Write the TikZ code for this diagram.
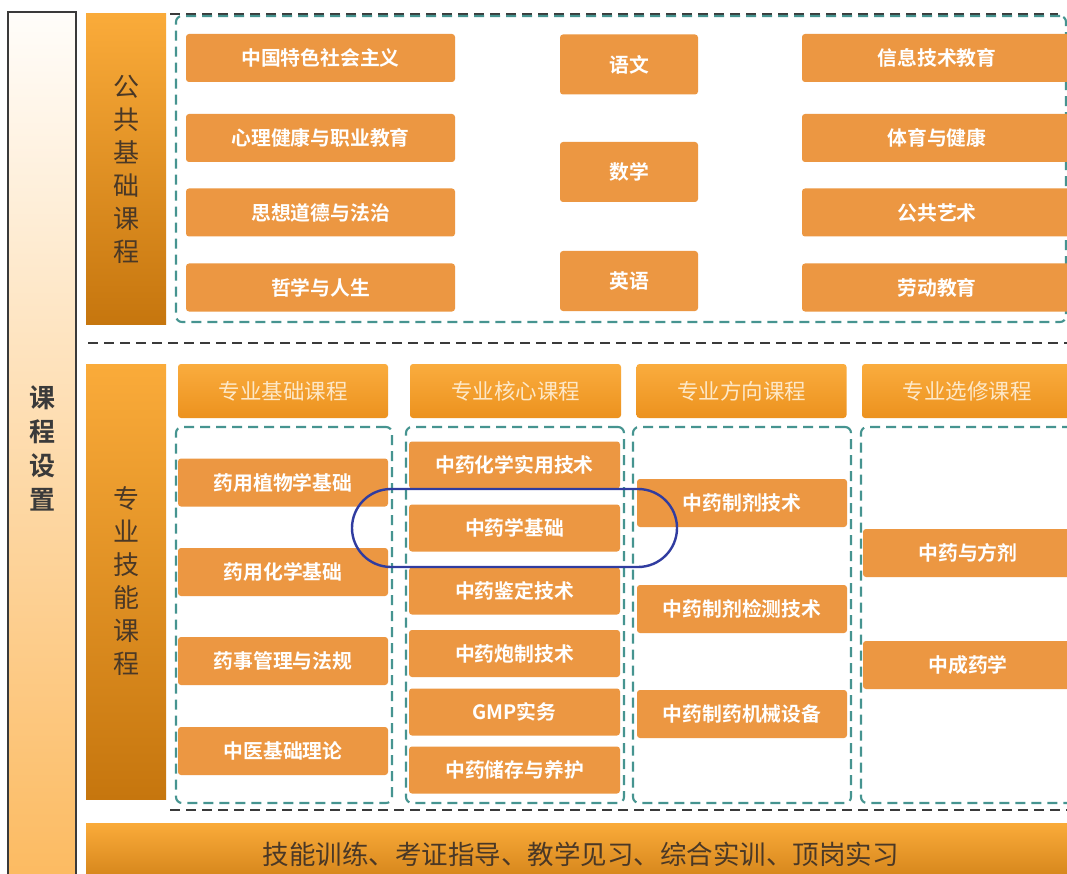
\documentclass[tikz,border=0pt]{standalone}
\usepackage{fontspec}
\setmainfont{Noto Sans CJK SC}[BoldFont={Noto Sans CJK SC Bold}]
\usepackage{xcolor}
\usetikzlibrary{positioning}

\definecolor{courseorange}{RGB}{236,151,66}
\definecolor{headtop}{RGB}{250,172,62}
\definecolor{headbottom}{RGB}{236,146,30}
\definecolor{headtext}{RGB}{253,232,200}
\definecolor{bartop}{RGB}{250,171,58}
\definecolor{barbottom}{RGB}{198,118,14}
\definecolor{bartext}{RGB}{74,56,38}
\definecolor{groupteal}{RGB}{70,148,144}
\definecolor{sepgray}{RGB}{58,58,58}
\definecolor{hiliteblue}{RGB}{48,60,160}
\definecolor{sidetop}{RGB}{255,253,250}
\definecolor{sidebottom}{RGB}{252,186,96}

\begin{document}
\begin{tikzpicture}[
  x=1pt, y=-1pt,
  course/.style={
    fill=courseorange,
    minimum width=210pt,
    minimum height=48pt,
    rounded corners=3pt,
    inner sep=0pt,
    text=white,
    font=\fontsize{19.8}{20}\selectfont\bfseries
  },
  header/.style={
    top color=headtop,
    bottom color=headbottom,
    minimum width=210pt,
    minimum height=54pt,
    rounded corners=3pt,
    inner sep=0pt,
    text=headtext,
    font=\fontsize{21.5}{22}\selectfont
  },
  sidebar/.style={
    top color=bartop,
    bottom color=barbottom,
    minimum width=80pt,
    inner sep=0pt,
    align=center,
    text=bartext,
    font=\fontsize{26}{33}\selectfont
  },
  group/.style={
    draw=groupteal,
    dash pattern=on 10pt off 6pt,
    line width=2.1pt,
    rounded corners=6pt,
    inner sep=0pt
  },
  sepline/.style={
    draw=sepgray,
    dash pattern=on 10pt off 6pt,
    line width=2.1pt
  },
  hilite/.style={
    draw=hiliteblue,
    line width=2.4pt,
    rounded corners=39pt,
    minimum width=325pt,
    minimum height=78pt,
    inner sep=0pt
  }
]
\useasboundingbox[fill=white] (0,0) rectangle (1067,874);

% Outer frame on the left
\node[draw=sepgray, line width=1.6pt, top color=sidetop, bottom color=sidebottom,
  minimum width=68pt, minimum height=873pt, inner sep=0pt, align=center,
  text=sepgray, font=\fontsize{26}{34}\selectfont\bfseries] (plan) at (42,448.5)
  {课\\程\\设\\置};

% Separator lines
\draw[sepline] (170,14) -- (1058,14);
\draw[sepline] (88,343) -- (1067,343);
\draw[sepline] (170,810) -- (1067,810);

% Public basic courses
\node[sidebar, minimum height=310pt] (pubbar) at (126,169) {公\\共\\基\\础\\课\\程};
\node[group, minimum width=890pt, minimum height=306pt] (pubgroup) at (621,169) {};

\node[course, minimum width=269pt] (p1) at (320.5,58) {中国特色社会主义};
\node[course, minimum width=269pt] (p2) at (320.5,138) {心理健康与职业教育};
\node[course, minimum width=269pt] (p3) at (320.5,212.5) {思想道德与法治};
\node[course, minimum width=269pt] (p4) at (320.5,287.5) {哲学与人生};

\node[course, minimum width=138pt, minimum height=60pt] (p5) at (629,64.5) {语文};
\node[course, minimum width=138pt, minimum height=60pt] (p6) at (629,172) {数学};
\node[course, minimum width=138pt, minimum height=60pt] (p7) at (629,281) {英语};

\node[course, minimum width=270pt] (p8) at (937,58) {信息技术教育};
\node[course, minimum width=270pt] (p9) at (937,138) {体育与健康};
\node[course, minimum width=270pt] (p10) at (937,212.5) {公共艺术};
\node[course, minimum width=270pt] (p11) at (937,287.5) {劳动教育};

% Professional skill courses
\node[sidebar, minimum height=435pt] (probar) at (126,581.5) {专\\业\\技\\能\\课\\程};

\node[header] (h1) at (283,391) {专业基础课程};
\node[header, minimum width=211pt] (h2) at (515.5,391) {专业核心课程};
\node[header] (h3) at (741.5,391) {专业方向课程};
\node[header] (h4) at (967,391) {专业选修课程};

\node[group, minimum width=216pt, minimum height=376pt] (g1) at (284,615) {};
\node[group, minimum width=218pt, minimum height=376pt] (g2) at (515,615) {};
\node[group, minimum width=218pt, minimum height=376pt] (g3) at (742,615) {};
\node[group, minimum width=217pt, minimum height=376pt] (g4) at (969.5,615) {};

\node[course] (a1) at (283,482.5) {药用植物学基础};
\node[course] (a2) at (283,572) {药用化学基础};
\node[course] (a3) at (283,661) {药事管理与法规};
\node[course] (a4) at (283,751) {中医基础理论};

\node[course, minimum width=211pt, minimum height=47pt] (b1) at (514.5,465) {中药化学实用技术};
\node[course, minimum width=211pt, minimum height=47pt] (b2) at (514.5,528) {中药学基础};
\node[course, minimum width=211pt, minimum height=47pt] (b3) at (514.5,591) {中药鉴定技术};
\node[course, minimum width=211pt, minimum height=47pt] (b4) at (514.5,653.5) {中药炮制技术};
\node[course, minimum width=211pt, minimum height=47pt] (b5) at (514.5,712) {GMP实务};
\node[course, minimum width=211pt, minimum height=47pt] (b6) at (514.5,770) {中药储存与养护};

\node[course] (c1) at (742,503) {中药制剂技术};
\node[course] (c2) at (742,609) {中药制剂检测技术};
\node[course] (c3) at (742,714) {中药制药机械设备};

\node[course] (d1) at (968,553) {中药与方剂};
\node[course] (d2) at (968,665) {中成药学};

% Highlight round the key course
\node[hilite] (focus) at (514.5,528) {};

% Practice bar at the bottom
\node[top color=bartop, bottom color=barbottom!80!bartop, minimum width=989pt,
  minimum height=62pt, inner sep=0pt, text=bartext,
  font=\fontsize{26.5}{27}\selectfont] (practice) at (580.5,854)
  {\raisebox{1pt}{技能训练、考证指导、教学见习、综合实训、顶岗实习}};
\end{tikzpicture}
\end{document}
